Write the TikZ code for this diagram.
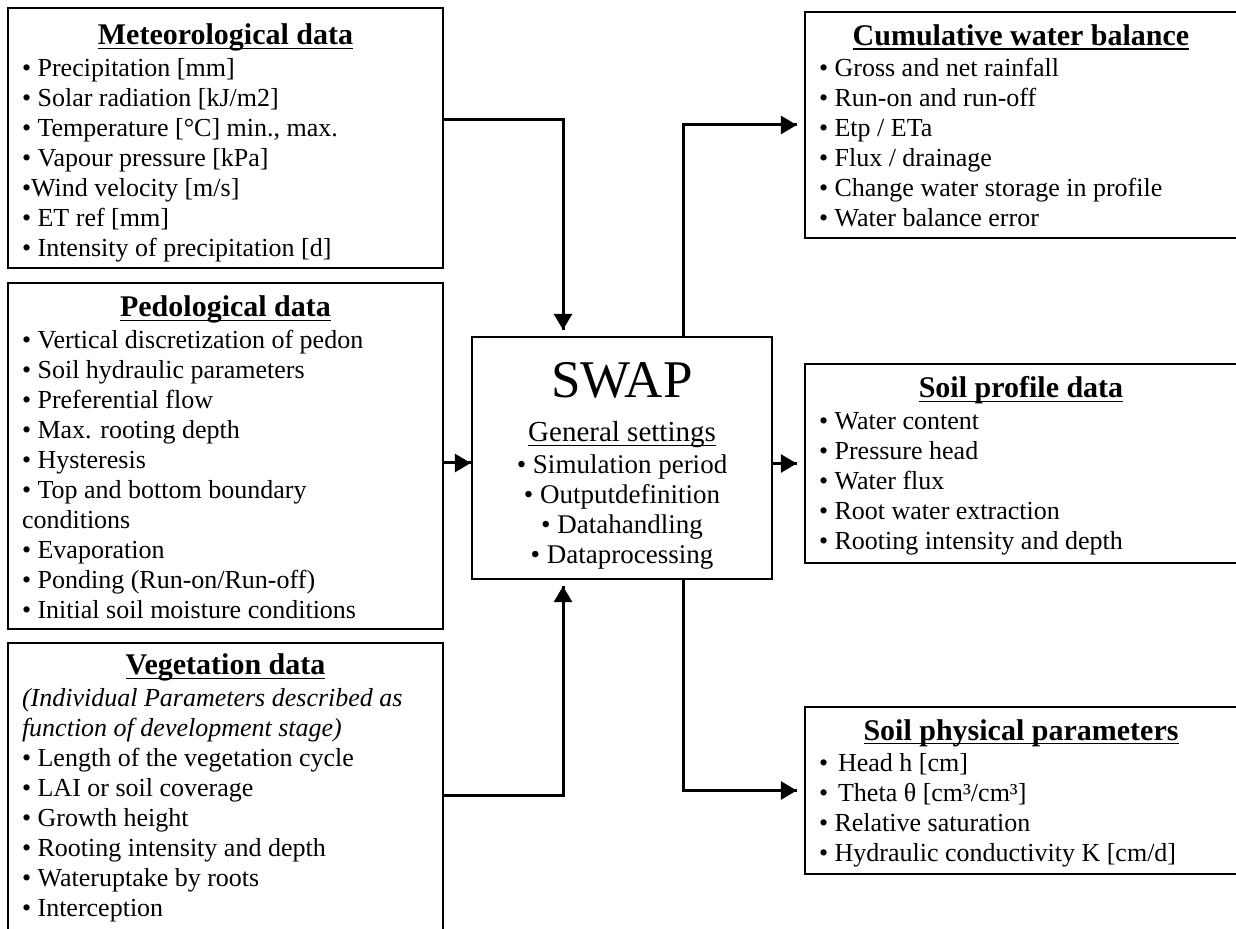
\documentclass[tikz,border=0pt]{standalone}
\usepackage{fontspec}
\setmainfont{Liberation Serif}
\usepackage{tikz}
\usetikzlibrary{arrows.meta}
\usetikzlibrary{decorations.markings}

\newcommand{\ulbox}[2][0.9pt]{\leavevmode\setbox0=\hbox{#2}\rlap{\rule[-2.2pt]{\wd0}{#1}}\box0}
\newcommand{\boxtitle}[1]{{\centering\fontsize{15}{15}\selectfont\bfseries\ulbox{#1}\par}\vspace{0.75pt}}
\newcommand{\itm}{\textbullet\ }

\tikzset{databox/.style = {draw, line width=1.2pt, inner xsep=7pt, inner ysep=0pt, align=flush left,
                           font=\fontsize{13}{15}\selectfont},
         flow/.style = {line width=1.5pt,
                        decoration={markings,
                                    mark=at position 1 with {\arrow{Triangle[length=8pt, width=9pt]}}},
                        postaction={decorate}}}

\begin{document}
\begin{tikzpicture}[x=0.5pt, y=-0.5pt]
    \useasboundingbox (0,0) rectangle (1236,929);

    % inputs
    \node [databox, minimum width=217.5pt, minimum height=130pt, text width=203.5pt,
           text height=18.5pt, text depth=111.5pt] (met) at (225.5,138)
        {\boxtitle{Meteorological data}
         \itm Precipitation [mm]\\
         \itm Solar radiation [kJ/m2]\\
         \itm Temperature [°C] min., max.\\
         \itm Vapour pressure [kPa]\\
         \textbullet Wind velocity [m/s]\\
         \itm ET ref [mm]\\
         \itm Intensity of precipitation [d]};
    \node [databox, minimum width=217.5pt, minimum height=173pt, text width=203.5pt,
           text height=17pt, text depth=156pt] (ped) at (225.5,456)
        {\boxtitle{Pedological data}
         \itm Vertical discretization of pedon\\
         \itm Soil hydraulic parameters\\
         \itm Preferential flow\\
         \itm Max. rooting depth\\
         \itm Hysteresis\\
         \itm Top and bottom boundary\\
         conditions\\
         \itm Evaporation\\
         \itm Ponding (Run-on/Run-off)\\
         \itm Initial soil moisture conditions};
    \node [databox, minimum width=217.5pt, minimum height=173pt, text width=203.5pt,
           text height=16pt, text depth=157pt] (veg) at (225.5,816)
        {\boxtitle{Vegetation data}
         {\itshape (Individual Parameters described as\\
         function of development stage)}\\
         \itm Length of the vegetation cycle\\
         \itm LAI or soil coverage\\
         \itm Growth height\\
         \itm Rooting intensity and depth\\
         \itm Wateruptake by roots\\
         \itm Interception};

    % model
    \node [databox, align=flush center, minimum width=150pt, minimum height=121pt, text width=136pt,
           text height=30.5pt, text depth=90.5pt, font=\fontsize{13.5}{15}\selectfont] (swap) at (622,458)
        {{\fontsize{26.5}{30}\selectfont SWAP\par}\vspace{7pt}
         {\fontsize{14.5}{15}\selectfont\ulbox[0.6pt]{General settings}\par}\vspace{1pt}
         \itm Simulation period\\
         \itm Outputdefinition\\
         \itm Datahandling\\
         \itm Dataprocessing};

    % outputs
    \node [databox, minimum width=216pt, minimum height=113pt, text width=202pt,
           text height=16.75pt, text depth=96.25pt] (cum) at (1021,125)
        {\boxtitle{Cumulative water balance}
         \itm Gross and net rainfall\\
         \itm Run-on and run-off\\
         \itm Etp / ETa\\
         \itm Flux / drainage\\
         \itm Change water storage in profile\\
         \itm Water balance error};
    \node [databox, minimum width=216pt, minimum height=99.5pt, text width=202pt,
           text height=17pt, text depth=82.5pt] (prof) at (1021,463.5)
        {\boxtitle{Soil profile data}
         \itm Water content\\
         \itm Pressure head\\
         \itm Water flux\\
         \itm Root water extraction\\
         \itm Rooting intensity and depth};
    \node [databox, minimum width=216pt, minimum height=83.5pt, text width=202pt,
           text height=16.5pt, text depth=67pt] (phys) at (1021,790.5)
        {\boxtitle{Soil physical parameters}
         \textbullet\hspace{5pt}Head h [cm]\\
         \textbullet\hspace{5pt}Theta θ [cm³/cm³]\\
         \itm Relative saturation\\
         \itm Hydraulic conductivity K [cm/d]};

    \draw [flow] ([yshift=9pt]met.east) -| ([xshift=-29.5pt, yshift=3pt]swap.north);
    \draw [flow] ([yshift=-3.5pt]ped.east) -- ([yshift=-3.5pt]ped.east -| swap.west);
    \draw [flow] ([yshift=10.5pt]veg.east) -| ([xshift=-29.5pt, yshift=-3pt]swap.south);

    \draw [flow] ([xshift=30.5pt]swap.north) |- ([xshift=-3.5pt]cum.west);
    \draw [flow] (prof.west -| swap.east) -- ([xshift=-3.5pt]prof.west);
    \draw [flow] ([xshift=30.5pt]swap.south) |- ([xshift=-3.5pt]phys.west);
\end{tikzpicture}
\end{document}
